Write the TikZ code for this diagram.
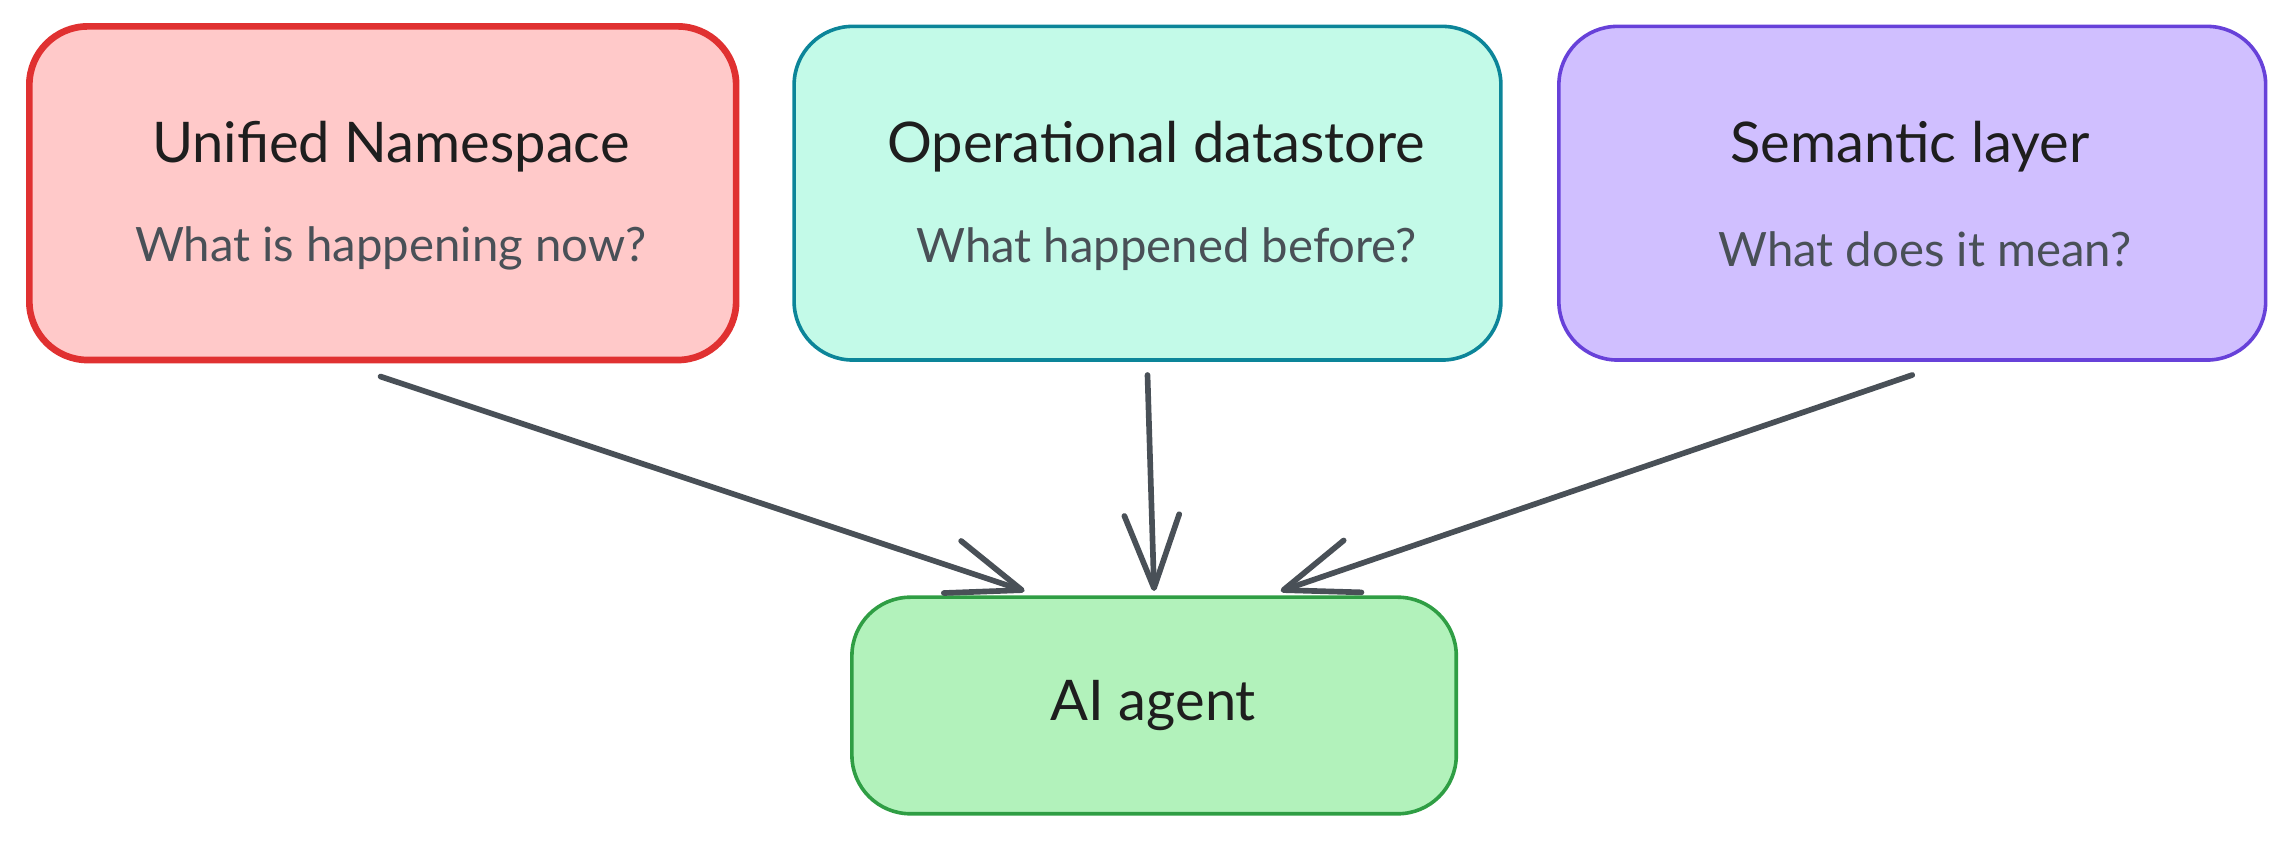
\documentclass[tikz,border=0pt]{standalone}
\usepackage{fontspec}
\setmainfont{Lato}
\usetikzlibrary{arrows.meta}
\definecolor{redline}{HTML}{E03131}
\definecolor{redfill}{HTML}{FFC9C9}
\definecolor{tealline}{HTML}{0C8599}
\definecolor{tealfill}{HTML}{C3FAE8}
\definecolor{violetline}{HTML}{6741D9}
\definecolor{violetfill}{HTML}{D0BFFF}
\definecolor{greenline}{HTML}{2F9E44}
\definecolor{greenfill}{HTML}{B2F2BB}
\definecolor{ink}{HTML}{1E1E1E}
\definecolor{slate}{HTML}{495057}
\begin{document}
\begin{tikzpicture}[x=0.02cm, y=-0.02cm]
 \tikzset{box/.style={draw, rounded corners=0.8cm, minimum width=9.66cm, minimum height=4.56cm, line width=1.4pt}}
 \tikzset{title/.style={font=\fontsize{21.8}{26}\selectfont, text=ink}}
 \tikzset{question/.style={font=\fontsize{18.4}{22}\selectfont, text=slate}}
 \tikzset{directed/.style={-{Straight Barb[length=1cm, width=0.75cm, round]}, line width=2.2pt, color=slate, line cap=round}}
  \useasboundingbox (0,0) rectangle (1568,578);
  \node[box, draw=redline, fill=redfill, line width=2.6pt] (UNS) at (261.5,132) {};
  \node[box, draw=tealline, fill=tealfill] (ODS) at (784,132) {};
  \node[box, draw=violetline, fill=violetfill] (SEM) at (1306.5,132) {};
  \node[box, draw=greenline, fill=greenfill, minimum width=8.26cm, minimum height=2.96cm] (agent) at (788.5,482) {};
  \node[title] (UNStitle) at (267,100) {Unified Namespace};
  \node[title] (ODStitle) at (790,100) {Operational datastore};
  \node[title] (SEMtitle) at (1305,100) {Semantic layer};
  \node[question] (UNSq) at (267,170) {What is happening now?};
  \node[question] (ODSq) at (797,170) {What happened before?};
  \node[question] (SEMq) at (1315,170) {What does it mean?};
  \node[title] (agenttitle) at (788,482) {AI agent};
  \draw[directed] ([xshift=-0.03cm, yshift=-0.18cm]UNS.south) -- ([xshift=-1.77cm, yshift=0.06cm]agent.north);
  \draw[directed] ([yshift=-0.18cm]ODS.south) -- ([yshift=0.06cm]agent.north);
  \draw[directed] ([yshift=-0.18cm]SEM.south) -- ([xshift=1.73cm, yshift=0.06cm]agent.north);
\end{tikzpicture}
\end{document}
